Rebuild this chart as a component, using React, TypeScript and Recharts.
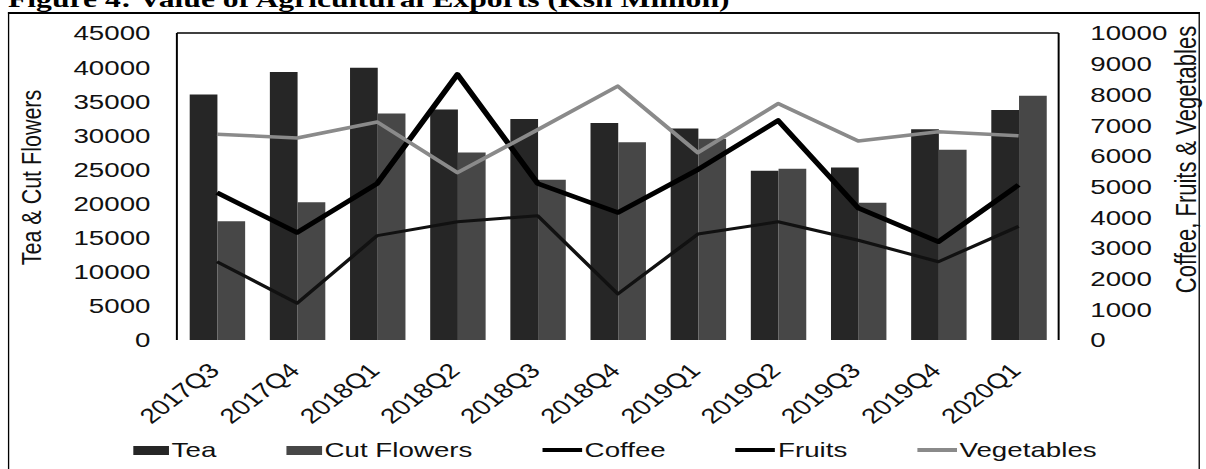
import React from 'react';
import { ComposedChart, Bar, Line, XAxis, YAxis, Legend, ReferenceLine } from 'recharts';

// the scan is stretched sideways, so the chart is drawn narrower and scaled in x
const STRETCH = 1.32;
const W = 914;
const H = 469;

const quarters = ['2017Q3', '2017Q4', '2018Q1', '2018Q2', '2018Q3', '2018Q4', '2019Q1', '2019Q2', '2019Q3', '2019Q4', '2020Q1'];
const tea = [36000, 39300, 39900, 33800, 32400, 31800, 31000, 24800, 25300, 30900, 33700];
const cutFlowers = [17400, 20200, 33200, 27500, 23500, 29000, 29500, 25100, 20100, 27900, 35800];
const coffee = [4800, 3500, 5100, 8650, 5100, 4150, 5550, 7150, 4300, 3200, 5050];
const fruits = [2550, 1200, 3400, 3850, 4050, 1500, 3450, 3850, 3250, 2550, 3700];
const vegetables = [6700, 6580, 7100, 5450, 6850, 8270, 6100, 7700, 6480, 6780, 6650];

const leftTicks = [0, 5000, 10000, 15000, 20000, 25000, 30000, 35000, 40000, 45000];
const rightTicks = [0, 1000, 2000, 3000, 4000, 5000, 6000, 7000, 8000, 9000, 10000];

const data = quarters.map((q, i) => ({
  q,
  tea: tea[i],
  flowers: cutFlowers[i],
  coffee: coffee[i],
  fruits: fruits[i],
  veg: vegetables[i],
}));

const TEA = '#262626';
const FLOWERS = '#474747';
const VEG = '#8a8a8a';

const legendItems = [
  { label: 'Tea', color: TEA, kind: 'bar' },
  { label: 'Cut Flowers', color: FLOWERS, kind: 'bar' },
  { label: 'Coffee', color: '#000', kind: 'line' },
  { label: 'Fruits', color: '#000', kind: 'line' },
  { label: 'Vegetables', color: VEG, kind: 'line' },
];

const renderLegend = () => (
  <div style={{ display: 'flex', alignItems: 'center', fontSize: 21, color: '#111', lineHeight: '24px', whiteSpace: 'nowrap' }}>
    {legendItems.map((it) => (
      <div key={it.label} style={{ display: 'flex', alignItems: 'center', marginRight: 53 }}>
        <span
          style={{
            display: 'inline-block',
            width: it.kind === 'bar' ? 27 : 30,
            height: it.kind === 'bar' ? 9 : 4,
            background: it.color,
            marginRight: 2,
          }}
        />
        <span>{it.label}</span>
      </div>
    ))}
  </div>
);

const XTick = (props: any) => {
  const { x, y, payload } = props;
  return (
    <text
      x={0}
      y={0}
      transform={`translate(${x + 3}, ${y + 32}) rotate(-45)`}
      textAnchor="end"
      fontSize={21}
      fill="#111"
    >
      {payload.value}
    </text>
  );
};

const AxisTitle = (props: any) => {
  const vb = props.viewBox || { x: 0, y: 0, width: 0, height: 0 };
  const cx = vb.x + props.dx;
  const cy = vb.y + vb.height / 2 + props.dy;
  return (
    <text
      x={cx}
      y={cy}
      transform={`rotate(-90, ${cx}, ${cy})`}
      textAnchor="middle"
      dominantBaseline="central"
      fontSize={props.size}
      fill="#111"
    >
      {props.text}
    </text>
  );
};

export default function App() {
  return (
    <div
      style={{
        position: 'absolute',
        left: 0,
        top: 0,
        width: W,
        height: H,
        overflow: 'hidden',
        transform: `scaleX(${STRETCH})`,
        transformOrigin: '0 0',
        fontFamily: '"Liberation Sans", Arial, sans-serif',
        background: '#fff',
      }}
    >
      <div
        style={{
          position: 'absolute',
          left: 6,
          top: 12,
          width: 901,
          height: 480,
          borderTop: '2px solid #000',
          borderLeft: '1.6px solid #000',
          borderRight: '1.6px solid #000',
        }}
      />
      <svg style={{ position: 'absolute', left: 0, top: 0 }} width={W} height={30}>
        <text x={6} y={7} fontFamily='"Liberation Serif", "Times New Roman", serif' fontWeight="bold" fontSize={24} fill="#000">
          Figure 4: Value of Agricultural Exports (Ksh Million)
        </text>
      </svg>
      <div style={{ position: 'absolute', left: 0, top: 0 }}>
        <ComposedChart
          width={W}
          height={H}
          data={data}
          margin={{ top: 33, right: 0, left: 0, bottom: 0 }}
          barGap={0}
          barCategoryGap="16%"
        >
          <XAxis
            dataKey="q"
            interval={0}
            axisLine={false}
            tickLine={false}
            tickSize={0}
            tickMargin={0}
            height={105}
            tick={<XTick />}
          />
          <YAxis
            yAxisId="left"
            domain={[0, 45000]}
            ticks={leftTicks}
            width={134}
            tickLine={false}
            tickSize={0}
            tickMargin={20}
            axisLine={{ stroke: '#000', strokeWidth: 1.5 }}
            tick={{ fill: '#111', fontSize: 21 }}
            label={<AxisTitle dx={23.5} dy={-9} size={21.5} text="Tea & Cut Flowers" />}
          />
          <YAxis
            yAxisId="right"
            orientation="right"
            domain={[0, 10000]}
            ticks={rightTicks}
            width={112}
            tickLine={false}
            tickSize={0}
            tickMargin={24}
            axisLine={{ stroke: '#000', strokeWidth: 1.5 }}
            tick={{ fill: '#111', fontSize: 21, textAnchor: 'start' }}
            label={<AxisTitle dx={96.5} dy={-27} size={22} text="Coffee, Fruits & Vegetables" />}
          />
          <ReferenceLine yAxisId="left" y={45000} stroke="#000" strokeWidth={1.5} />
          <Legend
            verticalAlign="bottom"
            content={renderLegend}
            wrapperStyle={{ left: 101, top: 438, width: 'auto', height: 24 }}
          />
          <Bar yAxisId="left" dataKey="tea" name="Tea" fill={TEA} isAnimationActive={false} />
          <Bar yAxisId="left" dataKey="flowers" name="Cut Flowers" fill={FLOWERS} isAnimationActive={false} />
          <Line yAxisId="right" type="linear" dataKey="coffee" name="Coffee" stroke="#000" strokeWidth={4.5} dot={false} strokeLinejoin="round" isAnimationActive={false} />
          <Line yAxisId="right" type="linear" dataKey="fruits" name="Fruits" stroke="#111" strokeWidth={3} dot={false} strokeLinejoin="round" isAnimationActive={false} />
          <Line yAxisId="right" type="linear" dataKey="veg" name="Vegetables" stroke={VEG} strokeWidth={3.5} dot={false} strokeLinejoin="round" isAnimationActive={false} />
        </ComposedChart>
      </div>
    </div>
  );
}
